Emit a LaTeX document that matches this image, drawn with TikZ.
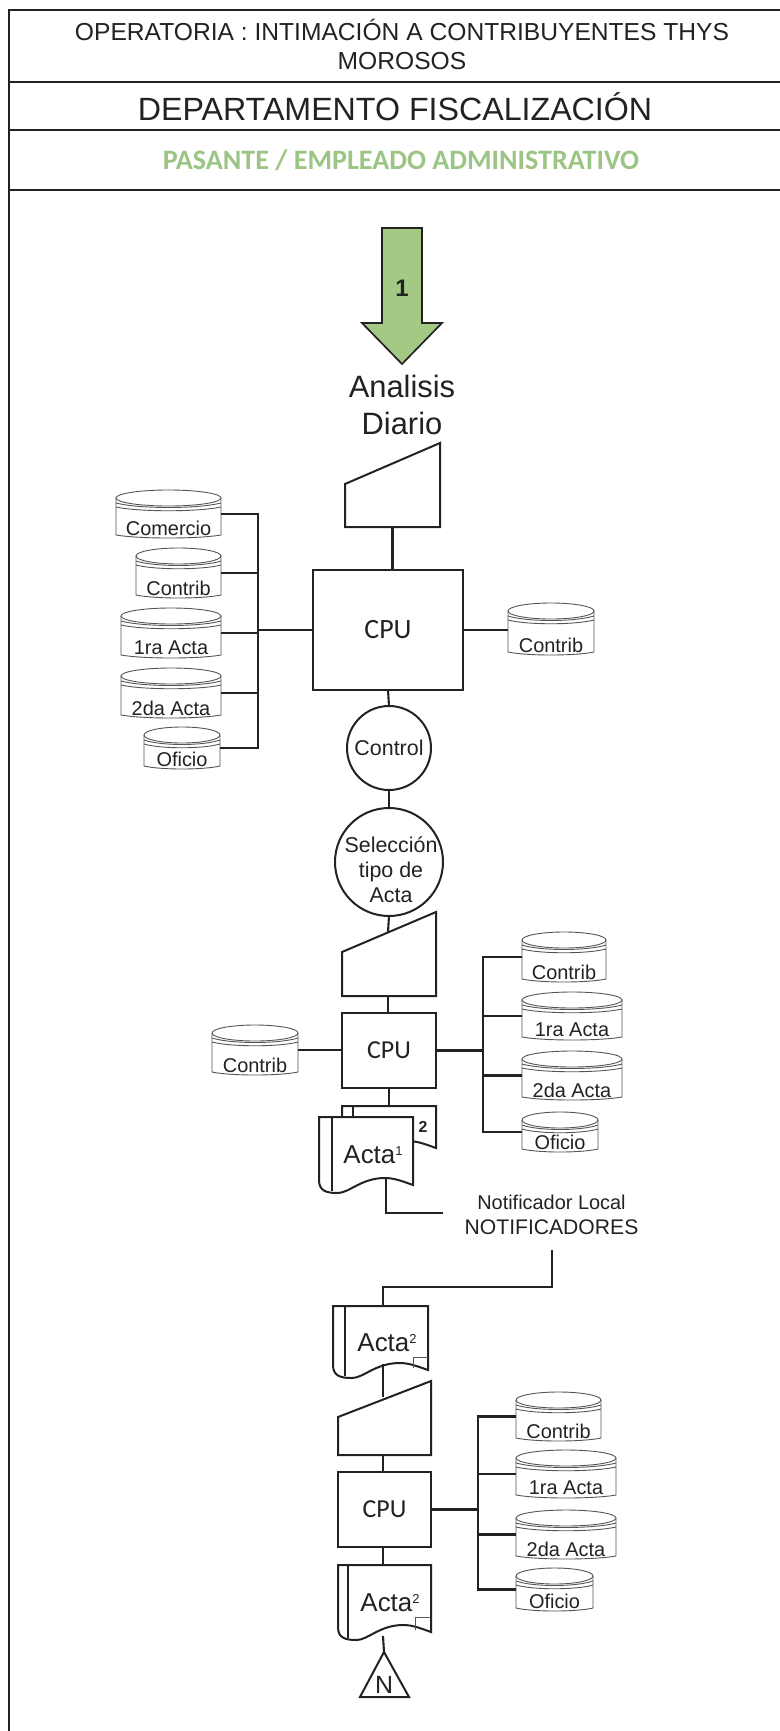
\documentclass[tikz,border=0pt]{standalone}
\usepackage{fontspec}
\setmainfont{Liberation Sans}
\newfontfamily\calib{Carlito}
\newcommand\fsz[2]{\fontsize{#1}{#2}\selectfont}
\newcommand\supr[1]{\raisebox{8bp}{\fsz{13}{13}#1}}
\definecolor{ink}{HTML}{222222}
\definecolor{cylgray}{HTML}{555555}
\definecolor{arrowgreen}{HTML}{A3C984}
\definecolor{titlegreen}{HTML}{9CC585}
\tikzset{
  framerule/.style={draw=ink,line width=3pt},
  conn/.style={draw=ink,line width=2.1pt},
  shapeline/.style={draw=ink,line width=2pt},
  cylline/.style={draw=cylgray,line width=0.9pt},
  holder/.style={inner sep=0pt,outer sep=0pt,draw=none},
  lab/.style={inner sep=0pt,outer sep=0pt,text=ink,align=center},
  circnode/.style={circle,shapeline,inner sep=0pt,outer sep=0pt,text=ink,align=center},
  boxnode/.style={shapeline,inner sep=0pt,outer sep=0pt,text=ink},
}
% cylinder: name, x1, x2, y1, y2, text
\newcommand\cyl[6]{%
  \pgfmathsetmacro\cw{#3-#2}%
  \pgfmathsetmacro\ch{#5-#4}%
  \pgfmathsetmacro\cx{(#2+#3)/2}%
  \pgfmathsetmacro\cy{(#4+#5)/2}%
  \pgfmathsetmacro\crx{\cw/2}%
  \pgfmathsetmacro\ct{#4+8}%
  \pgfmathsetmacro\cs{#4+13}%
  \pgfmathsetmacro\cb{#4+19}%
  \pgfmathsetmacro\cm{#4+17}%
  \pgfmathsetmacro\cn{#4+22}%
  \pgfmathsetmacro\ca{#2+0.22*\cw}%
  \pgfmathsetmacro\cc{#3-0.22*\cw}%
  \pgfmathsetmacro\ce{#5-3}%
  \pgfmathsetmacro\cf{#5+1}%
  \pgfmathsetmacro\ctx{#5-10}%
  \node[holder,minimum width=\cw bp,minimum height=\ch bp] (#1) at (\cx,\cy) {};
  \draw[cylline] (\cx,\ct) ellipse [x radius=\crx,y radius=8];
  \draw[cylline] (#2,\ct) -- (#2,\ce) .. controls (\ca,\cf) and (\cc,\cf) .. (#3,\ce) -- (#3,\ct);
  \draw[cylline] (#2,\cs) .. controls (\ca,\cb) and (\cc,\cb) .. (#3,\cs);
  \draw[cylline] (#2,\cm) .. controls (\ca,\cn) and (\cc,\cn) .. (#3,\cm);
  \node[lab,font=\fsz{20}{22}] (#1t) at (\cx,\ctx) {#6};
}
% document: name, x1, x2, y1, yr, xin
\newcommand\docu[6]{%
  \pgfmathsetmacro\dw{#3-#2}%
  \pgfmathsetmacro\dh{#5-#4}%
  \pgfmathsetmacro\dx{(#2+#3)/2}%
  \pgfmathsetmacro\dy{(#4+#5)/2}%
  \pgfmathsetmacro\dA{#3-0.12*\dw}%
  \pgfmathsetmacro\dB{#3-0.2*\dw}%
  \pgfmathsetmacro\dC{#3-0.3*\dw}%
  \pgfmathsetmacro\dD{#3-0.55*\dw}%
  \pgfmathsetmacro\dE{#2+0.32*\dw}%
  \pgfmathsetmacro\dF{#2+0.2*\dw}%
  \pgfmathsetmacro\dG{#2+0.08*\dw}%
  \pgfmathsetmacro\dH{#5-4}%
  \pgfmathsetmacro\dI{#5-7}%
  \pgfmathsetmacro\dJ{#5+8}%
  \pgfmathsetmacro\dK{#5+6}%
  \pgfmathsetmacro\dL{#5-5}%
  \node[holder,minimum width=\dw bp,minimum height=\dh bp] (#1) at (\dx,\dy) {};
  \draw[shapeline,fill=white] (#2,#4) -- (#3,#4) -- (#3,#5)
    .. controls (\dA,\dH) and (\dB,\dI) .. (\dC,\dI)
    .. controls (\dD,\dI) and (\dE,\dJ) .. (\dF,\dJ)
    .. controls (\dG,\dJ) and (#2,\dK) .. (#2,\dL) -- cycle;
  \draw[shapeline] (#6,#4) -- (#6,\dK);
}
% manual input: name, x1, x2, ytopleft, ytopright, ybottom
\newcommand\manual[6]{%
  \pgfmathsetmacro\mw{#3-#2}%
  \pgfmathsetmacro\mh{#6-#5}%
  \pgfmathsetmacro\mx{(#2+#3)/2}%
  \pgfmathsetmacro\my{(#5+#6)/2}%
  \node[holder,minimum width=\mw bp,minimum height=\mh bp] (#1) at (\mx,\my) {};
  \draw[shapeline] (#2,#4) -- (#3,#5) -- (#3,#6) -- (#2,#6) -- cycle;
}
\begin{document}
\begin{tikzpicture}[x=1bp,y=-1bp]
\useasboundingbox (0,0) rectangle (780,1731);
\fill[white] (0,0) rectangle (780,1731);

% header frame
\draw[framerule] (780,10) -- (9,10) -- (9,1731);
\draw[framerule] (9,82) -- (780,82);
\draw[framerule] (9,130) -- (780,130);
\draw[framerule] (9,190) -- (780,190);
\node[lab,font=\fsz{24.7}{29}] (title) at (402,44.5) {OPERATORIA : INTIMACIÓN A CONTRIBUYENTES THYS\\MOROSOS};
\node[lab,font=\fsz{32.3}{34}] (dept) at (395,107) {DEPARTAMENTO FISCALIZACIÓN};
\node[lab,text=titlegreen,font=\calib\bfseries\fsz{28.2}{30}] (role) at (401,160) {PASANTE / EMPLEADO ADMINISTRATIVO};

% start arrow
\draw[draw=ink,line width=1.7pt,fill=arrowgreen,line join=miter]
  (382,228) -- (422,228) -- (422,323) -- (442,323) -- (402,364) -- (362,323) -- (382,323) -- cycle;
\node[lab,font=\bfseries\fsz{24}{26}] (one) at (402,288) {1};
\node[lab,font=\fsz{31}{37}] (analisis) at (402,405) {Analisis\\Diario};

% first block
\manual{man1}{345}{440}{484}{443}{527}
\node[boxnode,draw,minimum width=150bp,minimum height=120bp,font=\calib\fsz{28}{30}] (cpu1) at (388,630) {CPU};
\node[circnode,minimum size=84bp,font=\fsz{21.5}{23}] (ctrl) at (389,748) {Control};
\node[circnode,minimum size=108bp] (sel) at (389,862) {};
\node[lab,font=\fsz{21.5}{25}] (selt) at (391,870) {Selección\\tipo de\\Acta};
\cyl{a1}{116}{221}{490}{538}{Comercio}
\cyl{a2}{136}{221}{548}{598}{Contrib}
\cyl{a3}{121}{221}{608}{658}{1ra Acta}
\cyl{a4}{121}{221}{668}{718}{2da Acta}
\cyl{a5}{144}{220}{727}{769}{Oficio}
\cyl{a6}{508}{594}{603}{655}{Contrib}
\coordinate (bus1) at (258,630);
\foreach \n in {a1,a2,a3,a4,a5} \draw[conn] (\n.east) -| (bus1);
\draw[conn] (bus1) -- (cpu1.west);
\draw[conn] (cpu1.east) -- (a6.west |- cpu1.east);
\draw[conn] (man1.south) -- (man1.south |- cpu1.north);
\draw[conn] (cpu1.south) -- (ctrl.north);
\draw[conn] (ctrl.south) -- (sel.north);

% second block
\manual{man2}{342}{436}{952}{912}{996}
\coordinate (man2in) at (388,932);
\node[boxnode,draw,minimum width=94bp,minimum height=75bp,font=\calib\fsz{26}{28}] (cpu2) at (389,1050.5) {CPU};
\cyl{b0}{212}{298}{1025}{1075}{Contrib}
\cyl{b1}{522}{606}{932}{982}{Contrib}
\cyl{b2}{522}{622}{992}{1040}{1ra Acta}
\cyl{b3}{522}{622}{1051}{1100}{2da Acta}
\cyl{b4}{522}{598}{1112}{1152}{Oficio}
\coordinate (bus2) at (483,1050.5);
\foreach \n in {b1,b2,b3,b4} \draw[conn] (\n.west) -| (bus2);
\draw[conn] (cpu2.east) -- (bus2);
\draw[conn] (b0.east) -- (b0.east -| cpu2.west);
\draw[conn] (sel.south) -- (man2in);
\draw[conn] (man2in |- man2.south) -- (man2in |- cpu2.north);

% first documents
\docu{d2}{342}{436}{1106}{1148}{353}
\node[lab,font=\bfseries\fsz{16}{18}] (d2t) at (423,1127) {2};
\docu{d1}{319}{413}{1117}{1185}{332}
\node[lab,font=\fsz{26}{28}] (d1t) at (373,1155) {Acta\supr{1}};
\draw[conn] (cpu2.south) -- (d2.north);
\coordinate (d1out) at (386,1179);
\coordinate (toNotif) at (443,1213);
\draw[conn] (d1out) |- (toNotif);
\node[lab,font=\fsz{20}{25}] (notif) at (551.5,1214.5) {Notificador Local\\{\fsz{21.2}{25}NOTIFICADORES}};
\coordinate (notifout) at (552,1250);
\coordinate (d3in) at (383,1306);
\draw[conn] (notifout) -- (552,1287) -- (383,1287) -- (d3in);

% third block
\docu{d3}{333}{428}{1306}{1370}{345}
\draw[cylline] (413,1368) -- (413,1357) -- (428,1357);
\node[lab,font=\fsz{26}{28}] (d3t) at (387,1343) {Acta\supr{2}};
\manual{man3}{338}{431}{1417}{1381}{1455}
\coordinate (man3in) at (383,1397);
\coordinate (d3out) at (383,1364);
\draw[conn] (d3out) -- (man3in);
\node[boxnode,draw,minimum width=93bp,minimum height=75bp,font=\calib\fsz{26}{28}] (cpu3) at (384.5,1509.5) {CPU};
\draw[conn] (man3in |- man3.south) -- (man3in |- cpu3.north);
\cyl{c1}{516}{601}{1392}{1441}{Contrib}
\cyl{c2}{516}{616}{1450}{1498}{1ra Acta}
\cyl{c3}{516}{616}{1510}{1559}{2da Acta}
\cyl{c4}{516}{593}{1568}{1611}{Oficio}
\coordinate (bus3) at (478,1509.5);
\foreach \n in {c1,c2,c3,c4} \draw[conn] (\n.west) -| (bus3);
\draw[conn] (cpu3.east) -- (bus3);
\docu{d4}{338}{431}{1565}{1632}{348}
\draw[cylline] (415,1630) -- (415,1617) -- (431,1617);
\node[lab,font=\fsz{26}{28}] (d4t) at (390,1603) {Acta\supr{2}};
\draw[conn] (man3in |- cpu3.south) -- (man3in |- d4.north);
\coordinate (d4out) at (383,1636);
\coordinate (apex) at (384,1652);
\draw[conn] (d4out) -- (apex);
\draw[shapeline,line join=miter] (apex) -- (409,1697) -- (360,1697) -- cycle;
\node[lab,font=\fsz{25}{27}] (nlab) at (384,1685) {N};
\end{tikzpicture}
\end{document}
